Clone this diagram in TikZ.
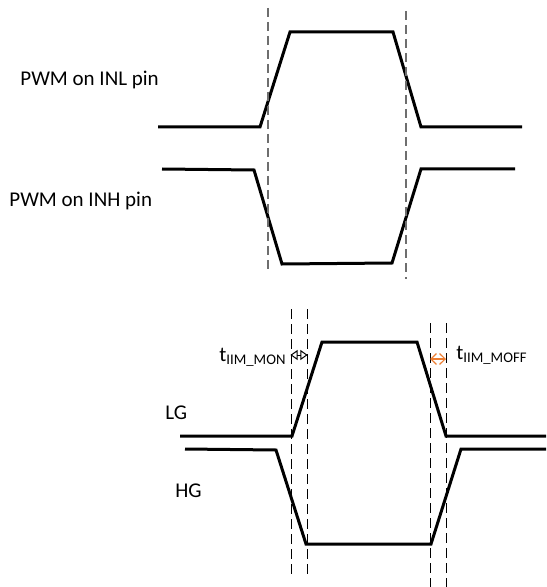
\documentclass[tikz,border=0pt]{standalone}
\usepackage{fontspec}
\setmainfont{Carlito}
\usetikzlibrary{arrows.meta}
\definecolor{WaveOrange}{HTML}{ED7D31}
\definecolor{GuideGray}{HTML}{6E6E6E}

\begin{document}
\begin{tikzpicture}[
  x=0.5pt,y=-0.5pt,
  wave/.style={draw=black,line width=1.5pt,line join=miter},
  guide/.style={draw=black,line width=0.5pt,dash pattern=on 5pt off 2.5pt},
  guidegray/.style={guide,draw=GuideGray,line width=0.6pt,dash pattern=on 4.5pt off 2.5pt},
  lbl/.style={font=\fontsize{10.5}{12.6}\selectfont,inner sep=0pt,anchor=base west},
  delay/.style={{Triangle[open,length=3.6pt,width=5pt]}-{Triangle[open,length=3.6pt,width=5pt]},line width=0.5pt,shorten <=-0.3pt,shorten >=-0.3pt}
]
\useasboundingbox (0,0) rectangle (546,587);

% input signals
\node[lbl] (inl) at (20,86) {PWM on INL pin};
\node[lbl] (inh) at (9,207) {PWM on INH pin};
\draw[wave] (158,127) -- (260,127) -- (290,32) -- (393,32) -- (421,127) -- (522,127);
\draw[wave] (162,169) -- (254,170) -- (282,264) -- (392,263) -- (421,169) -- (515,169);
\coordinate (g1t) at (268,8);   \coordinate (g1b) at (268,274);
\coordinate (g2t) at (406,11);  \coordinate (g2b) at (406,279);
\draw[guidegray] (g1t) -- (g1b);
\draw[guidegray] (g2t) -- (g2b);

% gate outputs
\node[lbl] (lg) at (165,419) {LG};
\node[lbl] (hg) at (175,497) {HG};
\draw[wave] (180,436) -- (292,436) -- (322,342) -- (417,342) -- (446,436) -- (546,436);
\draw[wave] (185,449) -- (276,450) -- (306,544) -- (431,544) -- (461,449) -- (546,449);
\foreach \gx/\gtop/\gbot [count=\i] in {291/309/577,307/309/577,430/323/587,446/323/587}{
  \coordinate (h\i t) at (\gx,\gtop);
  \coordinate (h\i b) at (\gx,\gbot);
  \draw[guide] (h\i t) -- (h\i b);
}

% delay markers
\coordinate (mon1) at (291,355);  \coordinate (mon2) at (307,355);
\coordinate (moff1) at (430,359); \coordinate (moff2) at (446,359);
\draw[delay] (mon1) -- (mon2);
\draw[line width=0.6pt,draw=WaveOrange,{Straight Barb[length=2.8pt,width=5.5pt]}-{Straight Barb[length=2.8pt,width=5.5pt]}] (moff1) -- (moff2);
\node[lbl] (tmon) at (219,361) {t\textsubscript{IIM\_MON}};
\node[lbl] (tmoff) at (456,359) {t\textsubscript{IIM\_MOFF}};
\end{tikzpicture}
\end{document}
